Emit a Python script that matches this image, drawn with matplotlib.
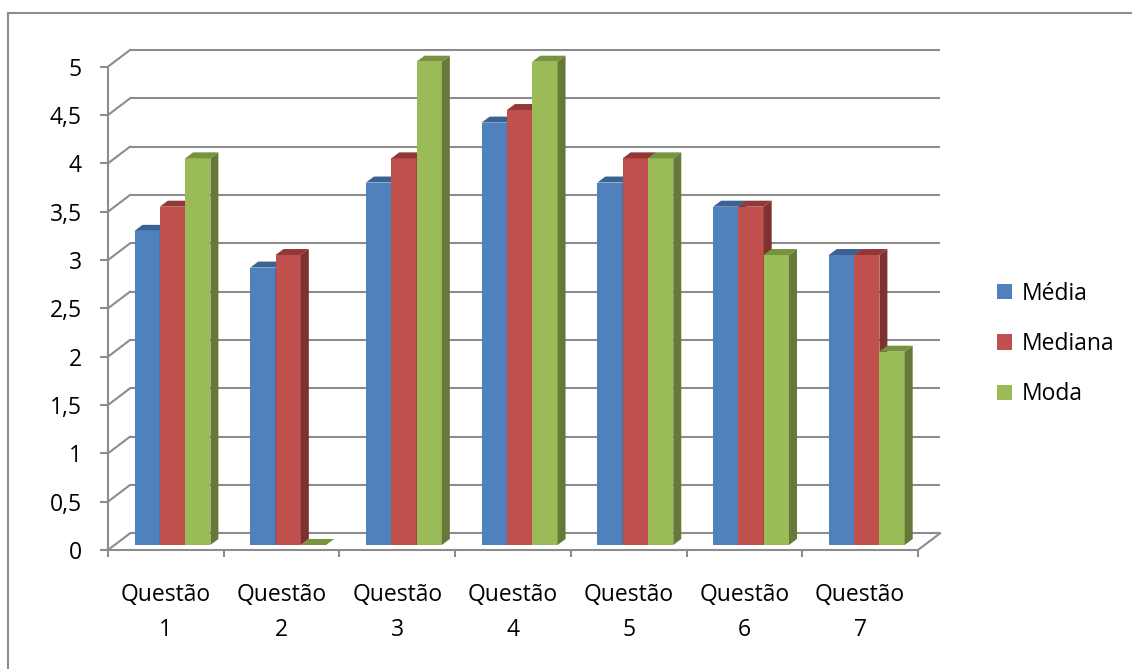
import numpy as np
import matplotlib
matplotlib.use("Agg")
import matplotlib.pyplot as plt
from matplotlib.patches import Patch
from matplotlib.lines import Line2D

plt.rcParams['font.family'] = ['Open Sans', 'DejaVu Sans']

# dados
questoes = ["Questão\n1", "Questão\n2", "Questão\n3", "Questão\n4",
            "Questão\n5", "Questão\n6", "Questão\n7"]
media = [3.25, 2.87, 3.75, 4.37, 3.75, 3.5, 3.0]
mediana = [3.5, 3.0, 4.0, 4.5, 4.0, 3.5, 3.0]
moda = [4.0, 0.0, 5.0, 5.0, 4.0, 3.0, 2.0]
series = ["Média", "Mediana", "Moda"]

# cores: frente, topo, lado
cores = {
    "Média": ("#4F81BD", "#3A6394", "#2F4F78"),
    "Mediana": ("#C0504D", "#943836", "#7C3230"),
    "Moda": ("#9BBB59", "#77933D", "#67793A"),
}
cinza = "#8C8C8C"
fs = 16.5

W, H = 1132, 669
fig = plt.figure(figsize=(W / 100, H / 100), dpi=100)

# plano da frente: x 108..918 px, y 550..66.7 px
left, right, bottom, top = 108, 918, 550, 66.7
ax = fig.add_axes([left / W, 1 - bottom / H, (right - left) / W, (bottom - top) / H])
n = len(questoes)
ax.set_xlim(-0.5, n - 0.5)
ax.set_ylim(0, 5)
px_x = (right - left) / n          # pixels por categoria
px_y = (bottom - top) / 5          # pixels por unidade

def dx(p):
    return p / px_x

def dy(p):
    return p / px_y

# parede do fundo
wx, wy = dx(22), dy(16.7)
niveis = np.arange(0, 5.01, 0.5)
for v in niveis:
    ax.plot([-0.5 + wx, n - 0.5 + wx], [v + wy, v + wy], color=cinza, lw=1.5,
            clip_on=False, zorder=1, solid_capstyle='butt')
    ax.plot([-0.5, -0.5 + wx], [v, v + wy], color=cinza, lw=1.5,
            clip_on=False, zorder=1)
# diagonal do chao (direita)
ax.plot([n - 0.5, n - 0.5 + wx], [0, wy], color=cinza, lw=1.5, clip_on=False, zorder=1)

# barras
bw = dx(25.3)
offx, offy = dx(6.6), dy(5)        # profundidade da face da frente
ddx, ddy = dx(8), dy(6)            # espessura da barra
valores = [media, mediana, moda]
for i in range(n):
    x_ini = i - 1.5 * bw + offx
    for k, s in enumerate(series):
        frente, topo, lado = cores[s]
        x0 = x_ini + k * bw
        x1 = x0 + bw
        b = offy
        t = valores[k][i] + offy
        if t > b:
            ax.fill([x0, x1, x1, x0], [b, b, t, t], color=frente, lw=0,
                    clip_on=False, zorder=3)
        ax.fill([x0, x1, x1 + ddx, x0 + ddx], [t, t, t + ddy, t + ddy],
                color=topo, lw=0, clip_on=False, zorder=3)
        ax.fill([x1, x1 + ddx, x1 + ddx, x1], [b, b + ddy, t + ddy, t],
                color=lado, lw=0, clip_on=False, zorder=3)

# eixos
for s in ["top", "right"]:
    ax.spines[s].set_visible(False)
for s in ["left", "bottom"]:
    ax.spines[s].set_color(cinza)
    ax.spines[s].set_linewidth(1.5)
    ax.spines[s].set_zorder(2)
ax.patch.set_visible(False)

ax.set_yticks(niveis)
ax.set_yticklabels([f"{v:g}".replace(".", ",") for v in niveis])
ax.tick_params(axis="y", direction="out", length=5.8, width=1.5, color=cinza,
               pad=13, labelsize=fs, labelcolor="black")

ax.set_xticks(np.arange(-0.5, n, 1))
ax.set_xticklabels([])
ax.tick_params(axis="x", which="major", direction="out", length=5, width=1.5, color=cinza)
ax.set_xticks(np.arange(n), minor=True)
ax.set_xticklabels(questoes, minor=True)
ax.tick_params(axis="x", which="minor", length=0, pad=24, labelsize=fs)
for lab in ax.get_xticklabels(minor=True):
    lab.set_linespacing(1.6)

# legenda
handles = [Patch(facecolor=cores[s][0], edgecolor="none") for s in series]
fig.legend(handles, series, loc="center left",
           bbox_to_anchor=(997 / W, 1 - 344 / H), frameon=False,
           fontsize=fs, handlelength=0.66, handleheight=0.66,
           handletextpad=0.4, labelspacing=1.15, borderpad=0, borderaxespad=0)

# borda da area do grafico
fig.add_artist(Line2D([8 / W, 1], [1 - 13 / H, 1 - 13 / H], color=cinza, lw=1.5))
fig.add_artist(Line2D([8 / W, 8 / W], [0, 1 - 13 / H], color=cinza, lw=1.5))

fig.savefig("out.png", dpi=100)
